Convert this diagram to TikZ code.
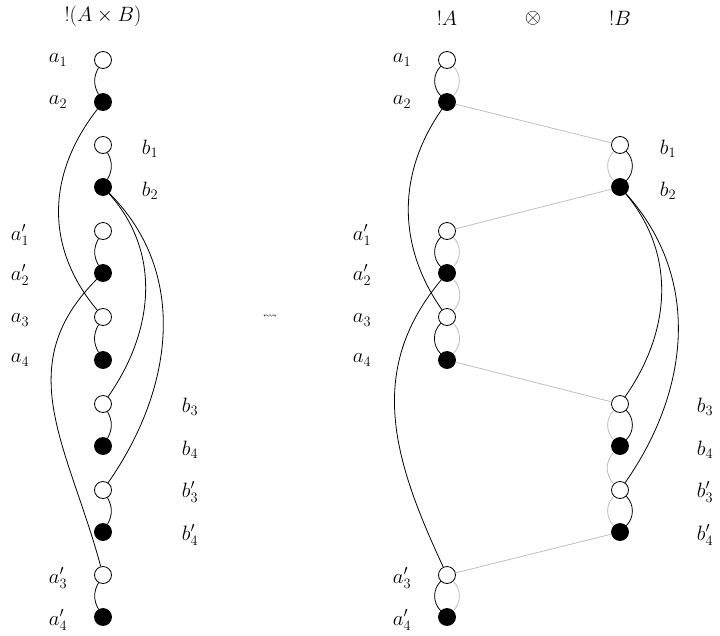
\documentclass[tikz,border=0pt]{standalone}
\usepackage{amssymb}
\begin{document}
\begin{tikzpicture}[x=1pt,y=-1pt,
  w/.style={circle,draw,thick,fill=white,minimum size=17pt,inner sep=0pt},
  k/.style={circle,draw,thick,fill=black,minimum size=17pt,inner sep=0pt},
  lab/.style={font=\fontsize{22}{24}\selectfont},
  e/.style={thick},
  g/.style={draw=black!25,thick}]
\useasboundingbox (0,0) rectangle (720,635);
% left column
\foreach \n/\y/\t in {a1/60/w,a2/102/k,b1/145/w,b2/187/k,ap1/231/w,ap2/273/k,a3/317/w,a4/360/k,b3/404/w,b4/446/k,bp3/490/w,bp4/532/k,ap3/575/w,ap4/617/k}
  \node[\t] (L\n) at (103,\y) {};
\node[lab] (t1) at (103,16) {$!(A\times B)$};
\node[lab] (l1) at (58,60) {$a_1$};
\node[lab] (l2) at (58,102) {$a_2$};
\node[lab] (l3) at (150,149) {$b_1$};
\node[lab] (l4) at (150,191) {$b_2$};
\node[lab] (l5) at (20,235) {$a_1'$};
\node[lab] (l6) at (20,275) {$a_2'$};
\node[lab] (l7) at (20,320) {$a_3$};
\node[lab] (l8) at (20,360) {$a_4$};
\node[lab] (l9) at (190,407) {$b_3$};
\node[lab] (l10) at (190,450) {$b_4$};
\node[lab] (l11) at (190,492) {$b_3'$};
\node[lab] (l12) at (190,535) {$b_4'$};
\node[lab] (l13) at (58,578) {$a_3'$};
\node[lab] (l14) at (58,620) {$a_4'$};
\draw[e] (La1) to[out=-120,in=120] (La2);
\draw[e] (Lb1) to[out=-60,in=60] (Lb2);
\draw[e] (Lap1) to[out=-120,in=120] (Lap2);
\draw[e] (La3) to[out=-120,in=120] (La4);
\draw[e] (Lb3) to[out=-60,in=60] (Lb4);
\draw[e] (Lbp3) to[out=-60,in=60] (Lbp4);
\draw[e] (Lap3) to[out=-120,in=120] (Lap4);
\draw[e] (La2) to[out=-128,in=130,looseness=1.05] (La3);
\draw[e] (Lap2) to[out=-135,in=105,looseness=1.1] (Lap3);
\draw[e] (Lb2) to[out=-48,in=55,looseness=1.0] (Lb3);
\draw[e] (Lb2) to[out=-45,in=55,looseness=1.0] (Lbp3);
% squiggle
\node (sq) at (270,317) {$\leftrightsquigarrow$};
% right
\node[lab] (t2) at (447,18) {$!A$};
\node[lab] (t3) at (533,18) {$\otimes$};
\node[lab] (t4) at (620,18) {$!B$};
\foreach \n/\y/\t in {a1/60/w,a2/102/k,ap1/231/w,ap2/273/k,a3/317/w,a4/360/k,ap3/575/w,ap4/617/k}
  \node[\t] (R\n) at (447,\y) {};
\foreach \n/\y/\t in {b1/145/w,b2/187/k,b3/404/w,b4/446/k,bp3/490/w,bp4/532/k}
  \node[\t] (R\n) at (620,\y) {};
\node[lab] (r1) at (402,60) {$a_1$};
\node[lab] (r2) at (402,102) {$a_2$};
\node[lab] (r3) at (362,235) {$a_1'$};
\node[lab] (r4) at (362,275) {$a_2'$};
\node[lab] (r5) at (362,320) {$a_3$};
\node[lab] (r6) at (362,360) {$a_4$};
\node[lab] (r7) at (402,578) {$a_3'$};
\node[lab] (r8) at (402,620) {$a_4'$};
\node[lab] (r9) at (668,149) {$b_1$};
\node[lab] (r10) at (668,191) {$b_2$};
\node[lab] (r11) at (705,407) {$b_3$};
\node[lab] (r12) at (705,450) {$b_4$};
\node[lab] (r13) at (705,492) {$b_3'$};
\node[lab] (r14) at (705,535) {$b_4'$};
% gray
\draw[g] (Ra2) -- (Rb1);
\draw[g] (Rb2) -- (Rap1);
\draw[g] (Ra4) -- (Rb3);
\draw[g] (Rbp4) -- (Rap3);
\foreach \u/\v in {a1/a2,ap1/ap2,ap2/a3,a3/a4,ap3/ap4}
  \draw[g] (R\u) to[bend left=45] (R\v);
\foreach \u/\v in {b1/b2,b3/b4,b4/bp3,bp3/bp4}
  \draw[g] (R\u) to[bend right=45] (R\v);
\foreach \u/\v in {a1/a2,ap1/ap2,a3/a4,ap3/ap4}
  \draw[e] (R\u) to[bend right=45] (R\v);
\foreach \u/\v in {b1/b2,b3/b4,bp3/bp4}
  \draw[e] (R\u) to[bend left=45] (R\v);
\draw[e] (Ra2) to[out=-125,in=125,looseness=1.0] (Ra3);
\draw[e] (Rap2) to[out=-130,in=115,looseness=1.05] (Rap3);
\draw[e] (Rb2) to[out=-50,in=55,looseness=1.0] (Rb3);
\draw[e] (Rb2) to[out=-48,in=55,looseness=1.0] (Rbp3);
\end{tikzpicture}
\end{document}
